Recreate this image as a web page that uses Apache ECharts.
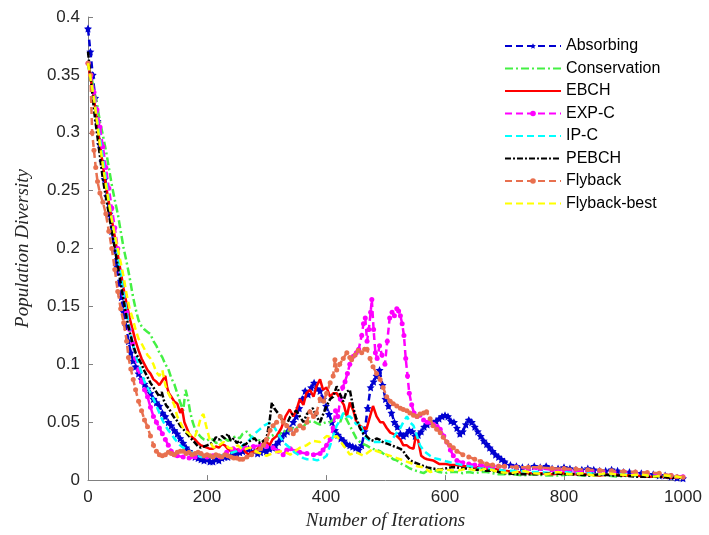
<!DOCTYPE html>
<html><head><meta charset="utf-8">
<script src="https://cdn.jsdelivr.net/npm/echarts@6/dist/echarts.min.js"></script>
<style>html,body{margin:0;padding:0;background:#fff}#c{width:709px;height:535px}</style>
</head><body><div id="c"></div>
<script>
const seriesNames = ['Absorbing','Conservation','EBCH','EXP-C','IP-C','PEBCH','Flyback','Flyback-best'];
const xTicks = [0,200,400,600,800,1000];
const yTicks = [0,0.05,0.1,0.15,0.2,0.25,0.3,0.35,0.4];

const absorbing = [[0,0.39],[4,0.37],[8,0.35],[12,0.33],[16,0.31],[20,0.29],[24,0.275],[28,0.26],[32,0.245],[36,0.23],[40,0.215],[44,0.2],[48,0.185],[52,0.17],[56,0.158],[60,0.145],[64,0.133],[68,0.12],[72,0.11],[76,0.103],[80,0.098],[85,0.092],[90,0.087],[95,0.083],[100,0.079],[105,0.075],[110,0.07],[115,0.067],[120,0.064],[125,0.058],[130,0.055],[135,0.05],[140,0.047],[145,0.043],[150,0.04],[155,0.036],[160,0.032],[165,0.028],[170,0.025],[175,0.022],[180,0.02],[185,0.019],[190,0.018],[195,0.017],[200,0.018],[205,0.016],[210,0.016],[215,0.018],[220,0.017],[225,0.019],[230,0.02],[235,0.02],[240,0.021],[245,0.023],[250,0.022],[255,0.024],[260,0.025],[265,0.027],[270,0.027],[275,0.024],[280,0.025],[285,0.023],[290,0.024],[295,0.026],[300,0.025],[305,0.027],[310,0.028],[315,0.03],[320,0.033],[325,0.036],[330,0.04],[335,0.042],[340,0.045],[345,0.05],[350,0.055],[355,0.062],[360,0.07],[365,0.077],[370,0.074],[375,0.08],[380,0.084],[385,0.079],[390,0.077],[395,0.07],[400,0.064],[405,0.057],[410,0.05],[415,0.043],[420,0.039],[425,0.036],[430,0.034],[435,0.031],[440,0.03],[445,0.029],[450,0.028],[455,0.026],[460,0.03],[465,0.042],[470,0.062],[475,0.08],[480,0.085],[485,0.09],[490,0.095],[495,0.082],[500,0.07],[505,0.064],[510,0.058],[515,0.05],[520,0.046],[525,0.04],[530,0.038],[535,0.04],[540,0.043],[545,0.042],[550,0.038],[555,0.039],[560,0.042],[565,0.046],[570,0.048],[575,0.05],[580,0.049],[585,0.051],[590,0.053],[595,0.055],[600,0.056],[605,0.055],[610,0.051],[615,0.05],[620,0.045],[625,0.04],[630,0.042],[635,0.048],[640,0.052],[645,0.05],[650,0.046],[655,0.042],[660,0.038],[665,0.034],[670,0.031],[675,0.028],[680,0.025],[685,0.022],[690,0.02],[695,0.018],[700,0.016],[710,0.013],[720,0.012],[730,0.011],[740,0.011],[750,0.012],[760,0.011],[770,0.012],[780,0.01],[790,0.01],[800,0.011],[810,0.01],[820,0.009],[830,0.009],[840,0.01],[850,0.009],[860,0.008],[870,0.008],[880,0.009],[890,0.008],[900,0.007],[910,0.007],[920,0.006],[930,0.006],[940,0.005],[950,0.005],[960,0.004],[970,0.004],[980,0.003],[990,0.002],[1000,0.0015]];

const conservation = [[0,0.36],[5,0.35],[10,0.337],[15,0.325],[20,0.31],[25,0.298],[30,0.285],[35,0.27],[40,0.255],[45,0.242],[50,0.23],[55,0.215],[60,0.2],[65,0.188],[70,0.175],[75,0.16],[80,0.148],[85,0.138],[90,0.133],[95,0.13],[100,0.128],[105,0.126],[110,0.12],[115,0.116],[120,0.11],[125,0.106],[130,0.1],[135,0.096],[140,0.088],[145,0.083],[150,0.075],[155,0.067],[160,0.06],[164,0.078],[168,0.07],[172,0.058],[176,0.05],[180,0.044],[185,0.04],[190,0.037],[195,0.035],[200,0.034],[205,0.036],[210,0.035],[215,0.032],[220,0.033],[225,0.035],[230,0.036],[235,0.034],[240,0.035],[245,0.037],[250,0.038],[255,0.036],[260,0.04],[267,0.042],[275,0.037],[285,0.035],[295,0.033],[305,0.037],[315,0.04],[320,0.038],[328,0.043],[335,0.041],[340,0.045],[348,0.044],[356,0.047],[362,0.046],[368,0.05],[378,0.051],[385,0.049],[390,0.048],[400,0.05],[406,0.05],[412,0.052],[418,0.055],[424,0.05],[429,0.058],[435,0.052],[440,0.047],[446,0.041],[451,0.036],[457,0.033],[463,0.031],[468,0.03],[474,0.028],[479,0.027],[485,0.026],[491,0.025],[496,0.023],[502,0.021],[508,0.02],[513,0.018],[519,0.017],[524,0.015],[530,0.013],[535,0.012],[541,0.01],[547,0.009],[552,0.008],[558,0.007],[564,0.006],[570,0.008],[580,0.009],[590,0.007],[600,0.006],[610,0.007],[620,0.007],[630,0.006],[640,0.007],[650,0.006],[660,0.007],[670,0.007],[680,0.006],[690,0.005],[700,0.005],[715,0.005],[730,0.004],[750,0.005],[770,0.004],[790,0.004],[810,0.005],[830,0.004],[850,0.004],[870,0.004],[890,0.003],[910,0.004],[930,0.003],[950,0.003],[970,0.003],[990,0.002],[1000,0.002]];

const ebch = [[0,0.36],[5,0.345],[10,0.33],[15,0.31],[20,0.29],[25,0.272],[30,0.255],[35,0.24],[40,0.225],[45,0.21],[50,0.195],[55,0.18],[60,0.165],[65,0.152],[70,0.14],[75,0.13],[80,0.12],[85,0.112],[90,0.105],[95,0.1],[100,0.095],[105,0.092],[110,0.087],[115,0.085],[120,0.082],[125,0.086],[130,0.09],[133,0.08],[136,0.075],[140,0.072],[145,0.068],[150,0.066],[155,0.058],[158,0.062],[162,0.05],[166,0.045],[170,0.04],[175,0.037],[180,0.035],[185,0.032],[190,0.03],[195,0.029],[200,0.028],[205,0.027],[210,0.027],[215,0.029],[220,0.028],[225,0.031],[230,0.03],[235,0.027],[240,0.025],[245,0.024],[250,0.026],[255,0.027],[260,0.028],[265,0.024],[270,0.022],[275,0.024],[280,0.025],[285,0.027],[290,0.03],[295,0.032],[300,0.033],[305,0.03],[310,0.035],[317,0.038],[325,0.045],[332,0.055],[339,0.061],[345,0.055],[350,0.06],[356,0.07],[362,0.065],[367,0.075],[373,0.078],[379,0.072],[384,0.081],[390,0.087],[395,0.078],[401,0.08],[407,0.072],[412,0.075],[418,0.075],[424,0.07],[430,0.065],[435,0.055],[440,0.067],[446,0.06],[451,0.05],[457,0.047],[463,0.045],[468,0.044],[474,0.055],[479,0.064],[485,0.055],[491,0.05],[496,0.05],[502,0.045],[508,0.041],[513,0.04],[519,0.038],[525,0.035],[530,0.03],[536,0.03],[541,0.028],[547,0.027],[551,0.038],[555,0.034],[560,0.021],[565,0.019],[570,0.018],[580,0.017],[590,0.014],[600,0.014],[610,0.013],[620,0.013],[630,0.012],[640,0.012],[650,0.011],[660,0.011],[670,0.01],[680,0.01],[690,0.009],[700,0.008],[720,0.007],[740,0.006],[760,0.006],[780,0.005],[800,0.006],[820,0.005],[840,0.005],[860,0.004],[880,0.005],[900,0.004],[920,0.004],[940,0.003],[960,0.003],[980,0.002],[1000,0.002]];

const expC = [[0,0.36],[5,0.35],[10,0.335],[15,0.32],[20,0.305],[25,0.288],[30,0.27],[35,0.252],[40,0.235],[45,0.218],[50,0.2],[55,0.18],[60,0.16],[65,0.145],[70,0.13],[75,0.118],[80,0.105],[85,0.095],[90,0.085],[95,0.078],[100,0.072],[105,0.063],[110,0.055],[115,0.05],[120,0.045],[125,0.04],[130,0.035],[135,0.03],[140,0.025],[145,0.022],[150,0.021],[160,0.02],[170,0.019],[180,0.02],[190,0.021],[200,0.02],[210,0.021],[222,0.02],[233,0.024],[244,0.027],[255,0.026],[265,0.028],[278,0.029],[290,0.03],[300,0.029],[311,0.028],[320,0.025],[328,0.022],[334,0.026],[340,0.027],[350,0.025],[356,0.024],[368,0.023],[379,0.022],[390,0.023],[395,0.026],[401,0.03],[407,0.035],[412,0.045],[416,0.06],[420,0.055],[424,0.07],[428,0.08],[432,0.085],[436,0.092],[440,0.1],[446,0.107],[451,0.11],[455,0.113],[460,0.125],[463,0.135],[466,0.14],[469,0.12],[472,0.13],[475,0.145],[477,0.156],[480,0.13],[483,0.11],[486,0.105],[490,0.116],[494,0.108],[499,0.1],[503,0.12],[507,0.14],[511,0.145],[515,0.142],[519,0.148],[522,0.146],[525,0.142],[528,0.135],[531,0.125],[534,0.105],[537,0.09],[540,0.075],[544,0.065],[548,0.058],[553,0.055],[558,0.056],[564,0.052],[570,0.05],[575,0.05],[581,0.048],[587,0.046],[592,0.044],[598,0.038],[603,0.033],[609,0.026],[614,0.021],[620,0.017],[630,0.015],[640,0.014],[650,0.013],[660,0.013],[670,0.012],[680,0.012],[690,0.012],[700,0.012],[720,0.011],[740,0.01],[760,0.01],[780,0.009],[800,0.009],[820,0.008],[840,0.008],[860,0.008],[880,0.007],[900,0.007],[920,0.006],[940,0.005],[960,0.005],[980,0.004],[1000,0.003]];

const ipC = [[0,0.36],[5,0.345],[10,0.33],[15,0.312],[20,0.295],[25,0.278],[30,0.26],[35,0.242],[40,0.225],[45,0.21],[50,0.195],[55,0.178],[60,0.16],[65,0.145],[70,0.13],[75,0.118],[80,0.108],[85,0.1],[90,0.093],[95,0.085],[100,0.08],[105,0.075],[110,0.07],[115,0.064],[120,0.058],[125,0.052],[130,0.047],[135,0.043],[140,0.04],[145,0.036],[150,0.033],[155,0.03],[160,0.028],[170,0.025],[180,0.022],[190,0.02],[200,0.02],[210,0.02],[220,0.021],[230,0.022],[237,0.023],[244,0.024],[250,0.025],[255,0.027],[260,0.03],[265,0.032],[272,0.035],[280,0.04],[289,0.044],[296,0.047],[306,0.05],[314,0.045],[322,0.038],[330,0.032],[339,0.028],[347,0.024],[356,0.021],[362,0.019],[368,0.018],[378,0.018],[385,0.017],[390,0.018],[396,0.019],[401,0.021],[407,0.03],[412,0.038],[418,0.047],[424,0.052],[429,0.058],[435,0.055],[440,0.055],[446,0.052],[451,0.048],[457,0.05],[463,0.04],[468,0.036],[474,0.034],[480,0.033],[485,0.033],[491,0.033],[500,0.034],[508,0.033],[515,0.038],[520,0.042],[524,0.044],[530,0.05],[536,0.055],[541,0.05],[547,0.047],[553,0.038],[558,0.03],[565,0.025],[570,0.023],[575,0.021],[582,0.019],[590,0.018],[603,0.016],[612,0.015],[620,0.014],[630,0.013],[640,0.012],[650,0.011],[659,0.01],[670,0.01],[680,0.009],[690,0.009],[700,0.008],[720,0.008],[740,0.007],[760,0.007],[780,0.006],[800,0.007],[820,0.006],[840,0.006],[860,0.005],[880,0.005],[900,0.005],[920,0.004],[940,0.004],[960,0.003],[980,0.003],[1000,0.002]];

const pebch = [[0,0.37],[5,0.345],[10,0.32],[15,0.3],[20,0.28],[25,0.26],[30,0.245],[35,0.23],[40,0.215],[45,0.2],[50,0.185],[55,0.17],[60,0.155],[65,0.14],[70,0.128],[75,0.118],[80,0.11],[85,0.105],[90,0.1],[95,0.094],[100,0.089],[105,0.084],[110,0.08],[115,0.076],[120,0.072],[124,0.076],[128,0.068],[132,0.064],[136,0.062],[140,0.058],[145,0.054],[150,0.051],[155,0.047],[160,0.044],[165,0.041],[170,0.038],[175,0.035],[180,0.032],[185,0.029],[190,0.028],[195,0.029],[200,0.03],[205,0.031],[210,0.033],[215,0.037],[220,0.035],[225,0.038],[230,0.036],[235,0.04],[240,0.034],[245,0.036],[250,0.032],[255,0.034],[260,0.03],[265,0.031],[270,0.033],[275,0.035],[280,0.036],[285,0.033],[290,0.032],[295,0.034],[300,0.036],[305,0.05],[309,0.067],[313,0.062],[316,0.06],[322,0.056],[328,0.05],[334,0.048],[340,0.055],[345,0.058],[350,0.06],[356,0.055],[362,0.05],[368,0.057],[373,0.06],[378,0.062],[384,0.055],[390,0.05],[396,0.058],[401,0.064],[407,0.07],[412,0.072],[418,0.081],[423,0.075],[429,0.068],[434,0.076],[440,0.078],[446,0.062],[451,0.053],[457,0.045],[463,0.04],[468,0.038],[474,0.035],[480,0.034],[485,0.036],[490,0.035],[495,0.033],[500,0.032],[505,0.031],[510,0.03],[515,0.029],[520,0.028],[525,0.027],[530,0.025],[535,0.021],[540,0.018],[545,0.016],[550,0.015],[560,0.013],[570,0.011],[580,0.01],[590,0.009],[600,0.01],[610,0.011],[620,0.011],[630,0.01],[640,0.01],[650,0.009],[660,0.009],[670,0.008],[680,0.008],[690,0.007],[700,0.006],[720,0.005],[740,0.005],[760,0.005],[780,0.006],[800,0.005],[820,0.005],[840,0.004],[860,0.005],[880,0.004],[900,0.004],[920,0.003],[940,0.003],[960,0.003],[980,0.002],[1000,0.002]];

const flyback = [[0,0.36],[4,0.35],[7,0.3],[10,0.285],[13,0.27],[16,0.258],[20,0.248],[25,0.24],[30,0.23],[35,0.215],[40,0.2],[45,0.182],[50,0.163],[55,0.148],[60,0.136],[65,0.12],[68,0.106],[72,0.096],[76,0.087],[80,0.078],[85,0.068],[90,0.06],[95,0.052],[100,0.046],[105,0.038],[110,0.03],[115,0.025],[120,0.022],[125,0.021],[130,0.022],[135,0.024],[140,0.023],[145,0.022],[150,0.024],[155,0.025],[160,0.025],[165,0.023],[170,0.024],[175,0.022],[180,0.023],[185,0.024],[190,0.023],[195,0.021],[200,0.022],[205,0.021],[210,0.02],[215,0.022],[220,0.021],[225,0.02],[230,0.022],[235,0.021],[240,0.02],[245,0.019],[250,0.019],[255,0.018],[260,0.018],[267,0.02],[275,0.022],[283,0.025],[290,0.027],[295,0.03],[300,0.035],[306,0.043],[311,0.047],[317,0.05],[323,0.055],[328,0.05],[334,0.047],[340,0.044],[345,0.04],[350,0.043],[356,0.047],[362,0.045],[368,0.05],[373,0.059],[379,0.055],[384,0.058],[390,0.07],[396,0.068],[401,0.075],[407,0.084],[412,0.09],[415,0.104],[418,0.095],[423,0.1],[429,0.105],[435,0.11],[440,0.106],[443,0.104],[449,0.108],[454,0.112],[460,0.11],[465,0.113],[469,0.113],[474,0.105],[479,0.098],[485,0.092],[491,0.087],[496,0.08],[502,0.072],[508,0.068],[513,0.066],[519,0.064],[525,0.062],[530,0.061],[536,0.06],[541,0.058],[547,0.056],[553,0.055],[558,0.057],[564,0.058],[569,0.059],[575,0.053],[580,0.047],[586,0.044],[592,0.041],[597,0.037],[603,0.033],[608,0.03],[614,0.028],[620,0.025],[630,0.022],[640,0.02],[650,0.018],[660,0.016],[670,0.014],[680,0.013],[690,0.012],[700,0.012],[720,0.011],[740,0.011],[760,0.011],[780,0.01],[800,0.01],[820,0.0095],[840,0.009],[860,0.0085],[880,0.008],[900,0.0075],[920,0.007],[940,0.0065],[960,0.006],[980,0.004],[990,0.003],[1000,0.0025]];

const flybackBest = [[0,0.36],[5,0.345],[10,0.33],[15,0.31],[20,0.29],[25,0.272],[30,0.255],[35,0.24],[40,0.225],[45,0.212],[50,0.2],[55,0.188],[60,0.175],[65,0.16],[70,0.148],[75,0.14],[80,0.13],[85,0.122],[90,0.118],[95,0.113],[100,0.108],[105,0.105],[110,0.1],[115,0.093],[120,0.09],[125,0.095],[130,0.082],[135,0.075],[140,0.07],[145,0.065],[150,0.055],[155,0.05],[160,0.045],[165,0.042],[170,0.04],[175,0.037],[180,0.038],[185,0.045],[190,0.055],[194,0.057],[198,0.048],[202,0.04],[206,0.032],[211,0.028],[220,0.03],[228,0.033],[236,0.028],[244,0.027],[252,0.03],[260,0.026],[272,0.028],[285,0.024],[300,0.021],[315,0.024],[328,0.025],[340,0.022],[356,0.028],[367,0.03],[378,0.034],[390,0.033],[401,0.038],[412,0.037],[418,0.038],[424,0.034],[429,0.03],[435,0.026],[440,0.022],[451,0.024],[463,0.021],[471,0.024],[479,0.027],[485,0.025],[491,0.024],[502,0.022],[513,0.02],[519,0.019],[530,0.017],[541,0.015],[553,0.012],[564,0.011],[575,0.007],[590,0.009],[600,0.009],[620,0.008],[637,0.01],[655,0.008],[670,0.01],[690,0.007],[710,0.006],[730,0.008],[750,0.006],[770,0.005],[790,0.007],[810,0.005],[830,0.006],[850,0.004],[870,0.006],[890,0.005],[910,0.004],[930,0.005],[950,0.003],[970,0.004],[990,0.003],[1000,0.002]];

const seriesData = [absorbing, conservation, ebch, expC, ipC, pebch, flyback, flybackBest];
const colors = ['#0000D0','#44F044','#FF0000','#FF00FF','#00FFFF','#000000','#E8704F','#FFFF00'];
const dashes = [[7,4],[8,3,2,3],'solid',[7,4],[7,4],[6,2,2,2],[7,4],[7,4]];
const STAR = 'path://M0,-10L2.9,-4L9.5,-3.1L4.7,1.5L5.9,8.1L0,5L-5.9,8.1L-4.7,1.5L-9.5,-3.1L-2.9,-4Z';
const symbols = [STAR,'none','none','circle','none','none','circle','none'];
const symSizes = [8,0,0,5,0,0,5,0];

const chart = echarts.init(document.getElementById('c'), null, {renderer:'canvas'});
const series = seriesNames.map((n,i)=>({
  name:n, type:'line', data:seriesData[i],
  symbol:symbols[i], symbolSize:symSizes[i], showSymbol:symbols[i]!=='none',
  lineStyle:{color:colors[i], width:2.5, type:dashes[i]},
  itemStyle:{color:colors[i]},
  z:2+i, animation:false
}));

const legendData = seriesNames.map((n,i)=> symbols[i]==='none'
  ? {name:n, itemStyle:{opacity:0}}
  : {name:n});

chart.setOption({
  animation:false,
  backgroundColor:'#fff',
  grid:{left:88,right:26,top:17,bottom:54,containLabel:false},
  legend:{
    orient:'vertical', left:499, top:33, itemWidth:56, itemHeight:7, itemGap:6.5,
    textStyle:{fontFamily:'Liberation Sans, Arial, sans-serif', fontSize:16, color:'#000'},
    data:legendData
  },
  xAxis:{
    type:'value', min:0, max:1000, interval:200,
    name:'Number of Iterations', nameLocation:'middle', nameGap:30,
    nameTextStyle:{fontFamily:'Liberation Serif, Times New Roman, serif', fontStyle:'italic', fontSize:19, color:'#262626'},
    axisLine:{show:true, lineStyle:{color:'#808080', width:1}},
    axisTick:{show:true, inside:true, length:5, lineStyle:{color:'#808080'}},
    axisLabel:{fontFamily:'Liberation Sans, Arial, sans-serif', fontSize:17, color:'#262626', margin:9,
      formatter:v=>String(v)},
    splitLine:{show:false}
  },
  yAxis:{
    type:'value', min:0, max:0.4, interval:0.05,
    name:'Population Diversity', nameLocation:'middle', nameGap:56,
    nameTextStyle:{fontFamily:'Liberation Serif, Times New Roman, serif', fontStyle:'italic', fontSize:19, color:'#262626'},
    axisLine:{show:true, lineStyle:{color:'#808080', width:1}},
    axisTick:{show:true, inside:true, length:5, lineStyle:{color:'#808080'}},
    axisLabel:{fontFamily:'Liberation Sans, Arial, sans-serif', fontSize:17, color:'#262626', margin:8,
      formatter:v=>String(+v.toFixed(2))},
    splitLine:{show:false}
  },
  series:series
});
</script></body></html>
